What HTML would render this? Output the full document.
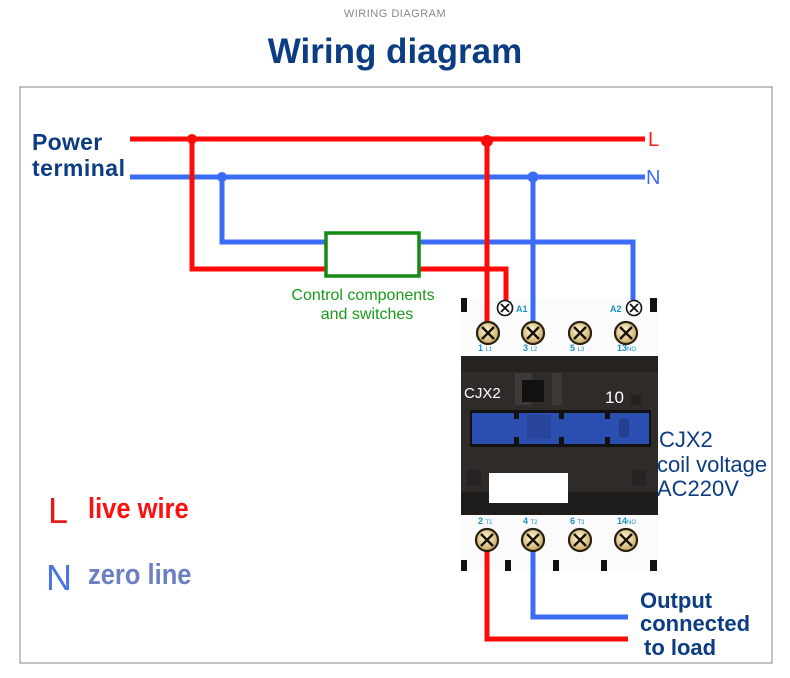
<!DOCTYPE html>
<html><head><meta charset="utf-8"><style>
html,body{margin:0;padding:0;background:#fff;}
svg{display:block;font-family:"Liberation Sans",sans-serif;}
</style></head><body>
<svg width="790" height="678" viewBox="0 0 790 678" xmlns="http://www.w3.org/2000/svg">
<defs>
<radialGradient id="tg" cx="45%" cy="40%" r="60%"><stop offset="0" stop-color="#fff8dc"/><stop offset="1" stop-color="#c9a860"/></radialGradient>
<g id="term"><circle r="11" fill="url(#tg)" stroke="#2a2010" stroke-width="2.2"/><path d="M-6,-6 L6,6 M6,-6 L-6,6" stroke="#1a1208" stroke-width="2.4"/></g>
<g id="sterm"><circle r="7.5" fill="#fff" stroke="#111" stroke-width="1.6"/><path d="M-4,-4 L4,4 M4,-4 L-4,4" stroke="#111" stroke-width="1.8"/></g>
</defs>
<text x="395" y="17" text-anchor="middle" font-size="11" fill="#888" letter-spacing="0.5">WIRING DIAGRAM</text>
<text x="395" y="63" text-anchor="middle" font-size="35" font-weight="bold" fill="#0c3c82">Wiring diagram</text>
<rect x="20" y="87" width="752" height="576" fill="none" stroke="#999" stroke-width="1.2"/>

<rect x="461" y="298" width="197" height="272" fill="#fbfbfb"/>
<rect x="461" y="298" width="6" height="14" fill="#111"/><rect x="650" y="298" width="7" height="14" fill="#111"/>
<g fill="#111"><rect x="461" y="560" width="6" height="11"/><rect x="505" y="560" width="6" height="11"/><rect x="553" y="560" width="6" height="11"/><rect x="601" y="560" width="6" height="11"/><rect x="650" y="560" width="7" height="11"/></g>
<rect x="461" y="356" width="197" height="159" fill="#2e2b29"/>
<rect x="461" y="356" width="197" height="16" fill="#252220"/>
<rect x="515" y="373" width="17" height="32" fill="#3c3937"/><rect x="552" y="373" width="10" height="32" fill="#3c3937"/>
<rect x="522" y="380" width="22" height="22" fill="#111"/>
<rect x="631" y="395" width="10" height="10" fill="#222"/>
<text x="464" y="398" font-size="15" fill="#fff">CJX2</text>
<text x="605" y="403" font-size="17" fill="#fff">10</text>
<rect x="470" y="410" width="181" height="37" fill="#111"/>
<rect x="472" y="413" width="177" height="31" fill="#2a4fb0"/>
<g fill="#111"><rect x="514" y="411" width="5" height="8"/><rect x="514" y="437" width="5" height="9"/><rect x="559" y="411" width="5" height="8"/><rect x="559" y="437" width="5" height="9"/><rect x="605" y="411" width="5" height="8"/><rect x="605" y="437" width="5" height="9"/></g>
<rect x="527" y="415" width="24" height="24" fill="#27459a"/><rect x="619" y="419" width="10" height="18" fill="#22408f"/>
<rect x="461" y="492" width="197" height="23" fill="#1f1d1c"/>
<rect x="467" y="470" width="14" height="16" fill="#262322"/><rect x="632" y="470" width="14" height="16" fill="#262322"/>
<rect x="489" y="473" width="79" height="30" fill="#fff"/>
<g font-size="9" font-weight="bold" fill="#1a8fc8">
<text x="478" y="351">1 <tspan font-size="6" font-weight="normal">L1</tspan></text>
<text x="523" y="351">3 <tspan font-size="6" font-weight="normal">L2</tspan></text>
<text x="570" y="351">5 <tspan font-size="6" font-weight="normal">L3</tspan></text>
<text x="617" y="351">13<tspan font-size="6" font-weight="normal">NO</tspan></text>
<text x="478" y="524">2 <tspan font-size="6" font-weight="normal">T1</tspan></text>
<text x="523" y="524">4 <tspan font-size="6" font-weight="normal">T2</tspan></text>
<text x="570" y="524">6 <tspan font-size="6" font-weight="normal">T3</tspan></text>
<text x="617" y="524">14<tspan font-size="6" font-weight="normal">NO</tspan></text>
<text x="516" y="312">A1</text><text x="610" y="312">A2</text>
</g>

<g fill="none" stroke-width="5">
<path d="M130,139 H645" stroke="#ff0a0a"/>
<path d="M130,177 H645" stroke="#3c6cf5"/>
<path d="M222,177 V242 H633 V300" stroke="#3c6cf5"/>
<path d="M192,139 V269 H506 V300" stroke="#ff0a0a"/>
<path d="M533,177 V333" stroke="#3c6cf5"/>
<path d="M487,139 V333" stroke="#ff0a0a"/>
<path d="M533,540 V617 H628" stroke="#3c6cf5"/>
<path d="M487,540 V639 H628" stroke="#ff0a0a"/>
</g>
<circle cx="192" cy="139" r="5" fill="#ff0a0a"/><circle cx="487" cy="141" r="6" fill="#ff0a0a"/>
<circle cx="222" cy="177" r="5" fill="#3c6cf5"/><circle cx="533" cy="177" r="5.5" fill="#3c6cf5"/>
<rect x="326" y="233" width="93" height="43" fill="#fff" stroke="#138a13" stroke-width="3.5"/>
<text x="363" y="300" text-anchor="middle" font-size="16" fill="#1a9a1a">Control components</text>
<text x="367" y="319" text-anchor="middle" font-size="16" fill="#1a9a1a">and switches</text>

<use href="#sterm" x="505" y="308"/><use href="#sterm" x="634" y="308"/>
<use href="#term" x="488" y="333"/><use href="#term" x="533" y="333"/><use href="#term" x="580" y="333"/><use href="#term" x="626" y="333"/>
<use href="#term" x="487" y="540"/><use href="#term" x="533" y="540"/><use href="#term" x="580" y="540"/><use href="#term" x="626" y="540"/>

<text x="648" y="146" font-size="20" fill="#ff1a1a">L</text>
<text x="646" y="184" font-size="20" fill="#3c6cf5">N</text>
<text x="32" y="150" font-size="23" font-weight="bold" fill="#0c3c82" letter-spacing="0.3">Power</text>
<text x="32" y="176" font-size="23" font-weight="bold" fill="#0c3c82" letter-spacing="0.5">terminal</text>

<g font-size="22" fill="#0c3c82">
<text x="659" y="447">CJX2</text><text x="657" y="472">coil voltage</text><text x="657" y="496">AC220V</text>
</g>
<g font-size="22" font-weight="bold" fill="#0c3c82">
<text x="640" y="608">Output</text><text x="640" y="631">connected</text><text x="644" y="655">to load</text>
</g>

<text x="48" y="523" font-size="36" fill="#e01c1c">L</text>
<text x="0" y="0" font-size="29" font-weight="bold" fill="#ff1010" transform="translate(88,518) scale(0.88,1)">live wire</text>
<text x="46" y="590" font-size="36" fill="#4a74e0">N</text>
<text x="0" y="0" font-size="29" font-weight="bold" fill="#6b7fc2" transform="translate(88,584) scale(0.88,1)">zero line</text>
</svg>
</body></html>
